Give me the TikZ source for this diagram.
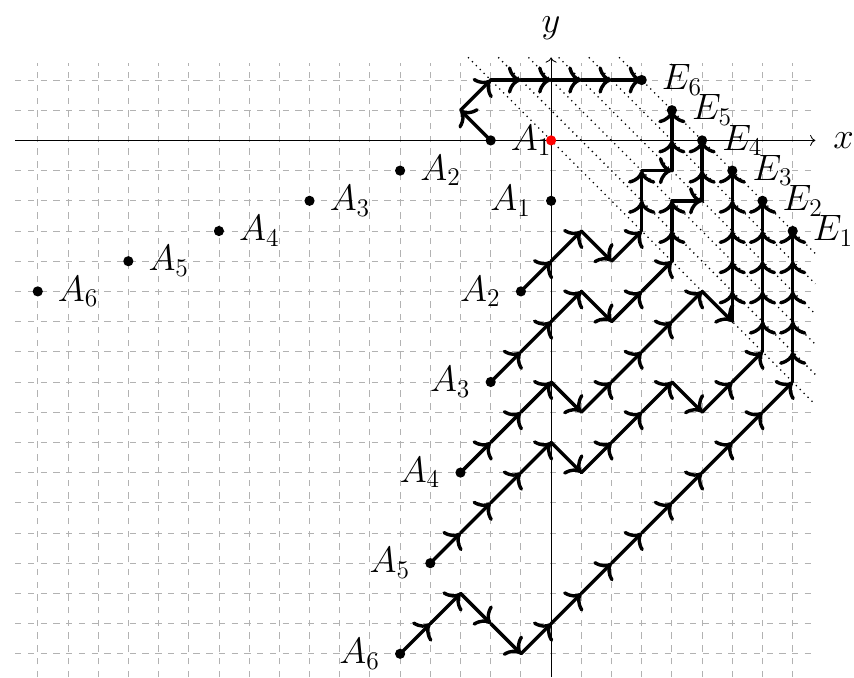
\documentclass[tikz,border=0pt]{standalone}
\usetikzlibrary{positioning,arrows.meta}
\newcommand{\walk}[2]{%
  \coordinate (cur) at (#1);
  \foreach \dx/\dy in {#2}
    \draw[walkstep] (cur) -- ++(\dx,\dy) coordinate (cur);}
\begin{document}
\begin{tikzpicture}[x=0.5cm,y=0.5cm,
  walkstep/.style={-{To[scale=1.2]},ultra thick,line cap=round},
  lbl/.style={font=\LARGE}]
  \useasboundingbox (-18.25,-17.77) rectangle (10.03,4.65);
  % grid and axes
  \draw[gray!60,dashed,step=0.5cm] (-17.75,-17.77) grid (8.75,2.55);
  \draw[->] (-17.75,0) -- (8.75,0) node[lbl,right=5pt] (xlab) {$x$};
  \draw[->] (0,-17.77) -- (0,2.75) node[lbl,above=5pt] (ylab) {$y$};
  % lines x+y=c
  \foreach \c in {0,...,5}
    \draw[dotted,semithick] (\c-2.75,2.75) -- (8.75,\c-8.75);
  % points
  \foreach \k in {1,...,6} {
    \coordinate (A\k) at ({1-\k},{1-3*\k});
    \coordinate (A\k r) at ({1-3*\k},{1-\k});
    \coordinate (E\k) at ({9-\k},{\k-4});
  }
  % lattice paths
  \walk{A1r}{-1/1,1/1,1/0,1/0,1/0,1/0,1/0}
  \walk{A2}{1/1,1/1,1/-1,1/1,0/1,0/1,1/0,0/1,0/1}
  \walk{A3}{1/1,1/1,1/1,1/-1,1/1,1/1,0/1,0/1,1/0,0/1,0/1}
  \walk{A4}{1/1,1/1,1/1,1/-1,1/1,1/1,1/1,1/1,1/-1,0/1,0/1,0/1,0/1,0/1}
  \walk{A5}{1/1,1/1,1/1,1/1,1/-1,1/1,1/1,1/1,1/-1,1/1,1/1,0/1,0/1,0/1,0/1,0/1}
  \walk{A6}{1/1,1/1,1/-1,1/-1,1/1,1/1,1/1,1/1,1/1,1/1,1/1,1/1,1/1,0/1,0/1,0/1,0/1,0/1}
  % dots and labels
  \foreach \k in {1,...,6} {
    \fill (A\k) circle (2.4pt);
    \fill (A\k r) circle (2.4pt);
    \fill (E\k) circle (2.4pt);
    \node[lbl,left=6pt] (lA\k) at (A\k) {$A_{\k}$};
    \node[lbl,right=6pt] (lA\k r) at (A\k r) {$A_{\k}$};
    \node[lbl,right=6pt] (lE\k) at (E\k) {$E_{\k}$};
  }
  \fill[red] (0,0) circle (2.4pt);
\end{tikzpicture}
\end{document}
